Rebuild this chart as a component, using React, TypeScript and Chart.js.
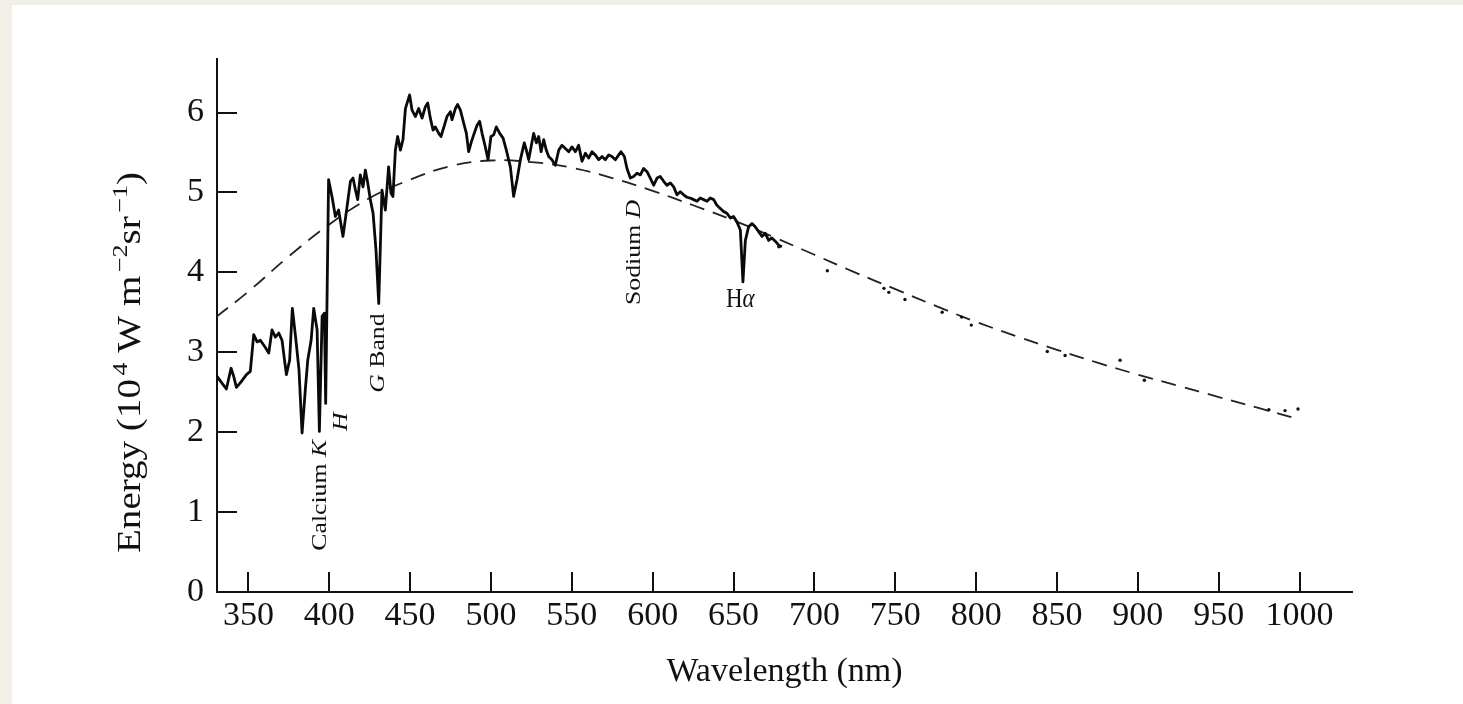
import React, { useEffect, useRef } from "react";
import { Chart, registerables } from "chart.js";

Chart.register(...registerables);

// ---- Observed solar spectrum (solid line) ----
const spectrumWavelength = [
  330.6, 333.1, 336.4, 339.3, 340.9, 342.6, 345.5, 348.8, 351.2, 353.3,
  355.4, 357.4, 360.5, 362.6, 364.6, 366.7, 368.8, 370.8, 373.5, 375.5,
  377.2, 379.3, 381.3, 383.2, 385.2, 386.7, 388.8, 390.4, 392.5, 393.9,
  395.6, 397.0, 397.8, 399.6, 401.7, 403.8, 405.8, 408.5, 411.0, 413.1,
  414.7, 416.2, 417.6, 419.2, 420.9, 422.3, 423.8, 425.4, 427.1, 428.9,
  430.6, 432.6, 434.7, 436.7, 438.2, 439.4, 440.9, 442.3, 444.0, 445.6,
  447.1, 449.7, 451.2, 453.3, 455.3, 457.4, 459.4, 460.9, 462.5, 464.2,
  465.6, 467.7, 469.1, 471.2, 472.8, 474.9, 475.9, 478.0, 479.4, 481.1,
  483.1, 484.8, 486.2, 487.7, 489.3, 491.4, 493.0, 494.5, 496.5, 498.2,
  500.0, 501.7, 503.3, 505.4, 507.5, 509.5, 512.0, 514.0, 516.1, 518.2,
  520.6, 521.9, 523.3, 524.8, 526.4, 528.1, 529.5, 531.0, 532.6, 534.2,
  535.7, 537.7, 539.8, 541.9, 543.9, 546.0, 548.1, 550.1, 552.2, 554.2,
  556.3, 558.4, 560.4, 562.5, 564.5, 566.6, 568.7, 570.7, 572.8, 574.8,
  576.9, 579.0, 580.4, 582.5, 584.1, 586.2, 588.2, 590.3, 592.4, 594.4,
  596.5, 598.5, 600.6, 602.7, 604.7, 606.8, 608.8, 610.9, 613.0, 615.0,
  617.1, 619.1, 621.2, 623.2, 625.3, 627.4, 629.4, 631.5, 633.6, 635.6,
  637.7, 639.7, 641.8, 643.9, 645.9, 648.0, 650.0, 652.1, 654.2, 655.8,
  657.3, 659.3, 661.4, 663.4, 665.5, 667.6, 669.6, 671.7, 673.7, 675.8,
  677.9, 679.9,
];
const spectrumEnergy = [
  2.70, 2.63, 2.54, 2.80, 2.70, 2.56, 2.63, 2.72, 2.76, 3.22,
  3.13, 3.15, 3.06, 2.99, 3.28, 3.19, 3.24, 3.15, 2.72, 2.90,
  3.55, 3.17, 2.78, 1.99, 2.53, 2.90, 3.15, 3.55, 3.28, 2.01,
  3.45, 3.49, 2.36, 5.16, 4.95, 4.70, 4.78, 4.45, 4.82, 5.14,
  5.18, 5.03, 4.91, 5.22, 5.07, 5.28, 5.12, 4.91, 4.74, 4.28,
  3.61, 5.03, 4.78, 5.32, 4.99, 4.95, 5.53, 5.70, 5.53, 5.66,
  6.05, 6.22, 6.03, 5.95, 6.05, 5.93, 6.07, 6.12, 5.93, 5.78,
  5.82, 5.74, 5.70, 5.84, 5.95, 6.01, 5.91, 6.05, 6.10, 6.03,
  5.87, 5.74, 5.51, 5.62, 5.72, 5.84, 5.89, 5.74, 5.57, 5.41,
  5.70, 5.72, 5.82, 5.74, 5.68, 5.53, 5.32, 4.95, 5.16, 5.41,
  5.62, 5.53, 5.41, 5.57, 5.74, 5.62, 5.70, 5.51, 5.66, 5.53,
  5.45, 5.41, 5.34, 5.53, 5.59, 5.55, 5.51, 5.57, 5.51, 5.59,
  5.39, 5.49, 5.43, 5.51, 5.47, 5.41, 5.45, 5.41, 5.47, 5.45,
  5.41, 5.47, 5.51, 5.45, 5.30, 5.18, 5.20, 5.24, 5.22, 5.30,
  5.26, 5.18, 5.09, 5.18, 5.20, 5.14, 5.09, 5.12, 5.07, 4.97,
  5.01, 4.97, 4.94, 4.93, 4.91, 4.89, 4.93, 4.91, 4.89, 4.93,
  4.91, 4.84, 4.80, 4.76, 4.74, 4.68, 4.70, 4.63, 4.53, 3.88,
  4.40, 4.57, 4.61, 4.57, 4.51, 4.45, 4.49, 4.40, 4.43, 4.39,
  4.34, 4.32,
];

// ---- Blackbody curve (dashed) ----
const blackbodyWavelength = [
  330, 350, 375, 400, 425, 450, 475, 500, 525, 550, 575, 600, 625, 650,
  675, 700, 725, 750, 775, 800, 825, 850, 875, 900, 925, 950, 975, 1000,
];
const blackbodyEnergy = [
  3.44, 3.76, 4.20, 4.60, 4.93, 5.16, 5.33, 5.40, 5.38, 5.31, 5.18, 5.02, 4.84, 4.65,
  4.44, 4.22, 4.00, 3.79, 3.58, 3.38, 3.20, 3.03, 2.87, 2.72, 2.58, 2.44, 2.30, 2.16,
];

// ---- Sparse measured points beyond 680 nm ----
const sampleWavelength = [678, 708, 743, 746, 756, 779, 791, 797, 844, 855, 889, 904, 981, 991, 999];
const sampleEnergy = [4.32, 4.02, 3.80, 3.75, 3.66, 3.50, 3.44, 3.34, 3.01, 2.96, 2.90, 2.65, 2.28, 2.27, 2.29];

// ---- Axes ----
const xTickValues = [350, 400, 450, 500, 550, 600, 650, 700, 750, 800, 850, 900, 950, 1000];
const yTickValues = [0, 1, 2, 3, 4, 5, 6];
const xRange = [330.6, 1032.4];
const yRange = [0, 6.67];
const xTitle = "Wavelength (nm)";
const yTitleParts = [
  { t: "Energy (10", sup: false },
  { t: "4", sup: true },
  { t: " W m", sup: false },
  { t: "\u22122", sup: true },
  { t: "sr", sup: false },
  { t: "\u22121", sup: true },
  { t: ")", sup: false },
];

// ---- Spectral line labels (anchored in data units) ----
const lineLabels = [
  { parts: [{ t: "Calcium ", i: false }, { t: "K", i: true }], lambda: 398.2, energy: 1.21, rotated: true },
  { parts: [{ t: "H", i: true }], lambda: 411.2, energy: 2.13, rotated: true },
  { parts: [{ t: "G", i: true }, { t: " Band", i: false }], lambda: 434.1, energy: 2.99, rotated: true },
  { parts: [{ t: "Sodium ", i: false }, { t: "D", i: true }], lambda: 592.4, energy: 4.25, rotated: true },
  { parts: [{ t: "H", i: false }, { t: "\u03b1", i: true }], lambda: 654.2, energy: 3.57, rotated: false },
];

const SERIF = "'Liberation Serif', 'Times New Roman', 'DejaVu Serif', serif";
const INK = "#111111";

const backgroundPlugin = {
  id: "pageBackground",
  beforeDraw(chart: any) {
    const { ctx, width, height } = chart;
    ctx.save();
    ctx.fillStyle = "#f2efe9";
    ctx.fillRect(0, 0, width, height);
    ctx.fillStyle = "#ffffff";
    ctx.fillRect(12, 5, width - 12, height - 5);
    ctx.restore();
  },
};

const inwardTicksPlugin = {
  id: "inwardTicks",
  afterDraw(chart: any) {
    const { ctx } = chart;
    const xs = chart.scales.x;
    const ys = chart.scales.y;
    ctx.save();
    ctx.strokeStyle = INK;
    ctx.lineWidth = 2;
    ctx.beginPath();
    for (const t of xs.ticks) {
      const px = Math.round(xs.getPixelForValue(t.value));
      ctx.moveTo(px, xs.top);
      ctx.lineTo(px, xs.top - 20);
    }
    for (const t of ys.ticks) {
      const py = Math.round(ys.getPixelForValue(t.value));
      ctx.moveTo(ys.right, py);
      ctx.lineTo(ys.right + 20, py);
    }
    ctx.stroke();
    ctx.restore();
  },
};

const textPlugin = {
  id: "annotationText",
  afterDraw(chart: any) {
    const { ctx } = chart;
    const xs = chart.scales.x;
    const ys = chart.scales.y;
    ctx.save();
    ctx.fillStyle = INK;
    ctx.textBaseline = "alphabetic";
    ctx.textAlign = "left";
    const stretch = 1.17;

    // line labels
    for (const lab of lineLabels) {
      const px = xs.getPixelForValue(lab.lambda);
      const py = ys.getPixelForValue(lab.energy);
      const size = lab.rotated ? 22 : 23;
      const fontOf = (it: boolean) => `${it ? "italic " : ""}${size}px ${SERIF}`;
      let w = 0;
      for (const p of lab.parts) {
        ctx.font = fontOf(p.i);
        w += ctx.measureText(p.t).width;
      }
      ctx.save();
      ctx.translate(px, py);
      if (lab.rotated) {
        ctx.rotate(-Math.PI / 2);
        ctx.scale(stretch, 1);
      } else {
        ctx.scale(1, stretch);
      }
      let cx = -w / 2;
      for (const p of lab.parts) {
        ctx.font = fontOf(p.i);
        ctx.fillText(p.t, cx, 0);
        cx += ctx.measureText(p.t).width;
      }
      ctx.restore();
    }

    // y-axis title with superscripts
    const base = 33;
    const supSize = 22;
    const gapBeforeSup = 3;
    let total = 0;
    for (const p of yTitleParts) {
      ctx.font = `${p.sup ? supSize : base}px ${SERIF}`;
      total += ctx.measureText(p.t).width + (p.sup ? gapBeforeSup : 0);
    }
    const targetLen = 381;
    const centerY = (chart.chartArea.top + chart.chartArea.bottom) / 2 + 37;
    ctx.save();
    ctx.translate(140, centerY);
    ctx.rotate(-Math.PI / 2);
    ctx.scale(targetLen / total, 1);
    let cx = -total / 2;
    for (const p of yTitleParts) {
      ctx.font = `${p.sup ? supSize : base}px ${SERIF}`;
      if (p.sup) cx += gapBeforeSup;
      ctx.fillText(p.t, cx, p.sup ? -13 : 0);
      cx += ctx.measureText(p.t).width;
    }
    ctx.restore();
    ctx.restore();
  },
};

export default function App() {
  const canvasRef = useRef<HTMLCanvasElement | null>(null);

  useEffect(() => {
    const canvas = canvasRef.current;
    if (!canvas) return;
    const tickFont = { family: SERIF, size: 34 };
    const chart = new Chart(canvas, {
      type: "scatter",
      data: {
        datasets: [
          {
            label: "Observed spectrum",
            data: spectrumWavelength.map((x, i) => ({ x, y: spectrumEnergy[i] })),
            showLine: true,
            borderColor: "#0a0a0a",
            borderWidth: 2.8,
            borderJoinStyle: "round",
            pointRadius: 0,
            tension: 0,
            order: 0,
          } as any,
          {
            label: "Samples",
            data: sampleWavelength.map((x, i) => ({ x, y: sampleEnergy[i] })),
            showLine: false,
            pointRadius: 1.7,
            pointBackgroundColor: "#111",
            pointBorderWidth: 0,
            order: 1,
          } as any,
          {
            label: "Blackbody",
            data: blackbodyWavelength.map((x, i) => ({ x, y: blackbodyEnergy[i] })),
            showLine: true,
            borderColor: "#222",
            borderWidth: 1.8,
            borderDash: [15, 9],
            pointRadius: 0,
            tension: 0.4,
            order: 2,
          } as any,
        ],
      },
      options: {
        responsive: false,
        animation: false,
        devicePixelRatio: 1,
        layout: { padding: { left: 0, top: 59, right: 111, bottom: 0 } },
        plugins: { legend: { display: false }, tooltip: { enabled: false } },
        scales: {
          x: {
            type: "linear",
            min: xRange[0],
            max: xRange[1],
            afterFit: (s: any) => {
              s.height = 112;
            },
            afterBuildTicks: (s: any) => {
              s.ticks = xTickValues.map((value) => ({ value }));
            },
            grid: { display: false, drawTicks: false },
            border: { display: true, color: INK, width: 2 },
            ticks: {
              autoSkip: false,
              maxRotation: 0,
              padding: 4,
              color: INK,
              font: tickFont,
              callback: (v: any) => String(v),
            },
            title: {
              display: true,
              text: xTitle,
              color: INK,
              font: tickFont,
              padding: { top: 0, bottom: 12 },
            },
          },
          y: {
            type: "linear",
            min: yRange[0],
            max: yRange[1],
            afterFit: (s: any) => {
              s.width = 217;
            },
            afterBuildTicks: (s: any) => {
              s.ticks = yTickValues.map((value) => ({ value }));
            },
            grid: { display: false, drawTicks: false },
            border: { display: true, color: INK, width: 2 },
            ticks: {
              padding: 13,
              color: INK,
              font: tickFont,
              callback: (v: any) => String(v),
            },
          },
        },
      } as any,
      plugins: [backgroundPlugin, inwardTicksPlugin, textPlugin],
    });
    return () => chart.destroy();
  }, []);

  return (
    <div style={{ position: "fixed", left: 0, top: 0, width: 1463, height: 704 }}>
      <canvas ref={canvasRef} width={1463} height={704} style={{ display: "block" }} />
    </div>
  );
}
